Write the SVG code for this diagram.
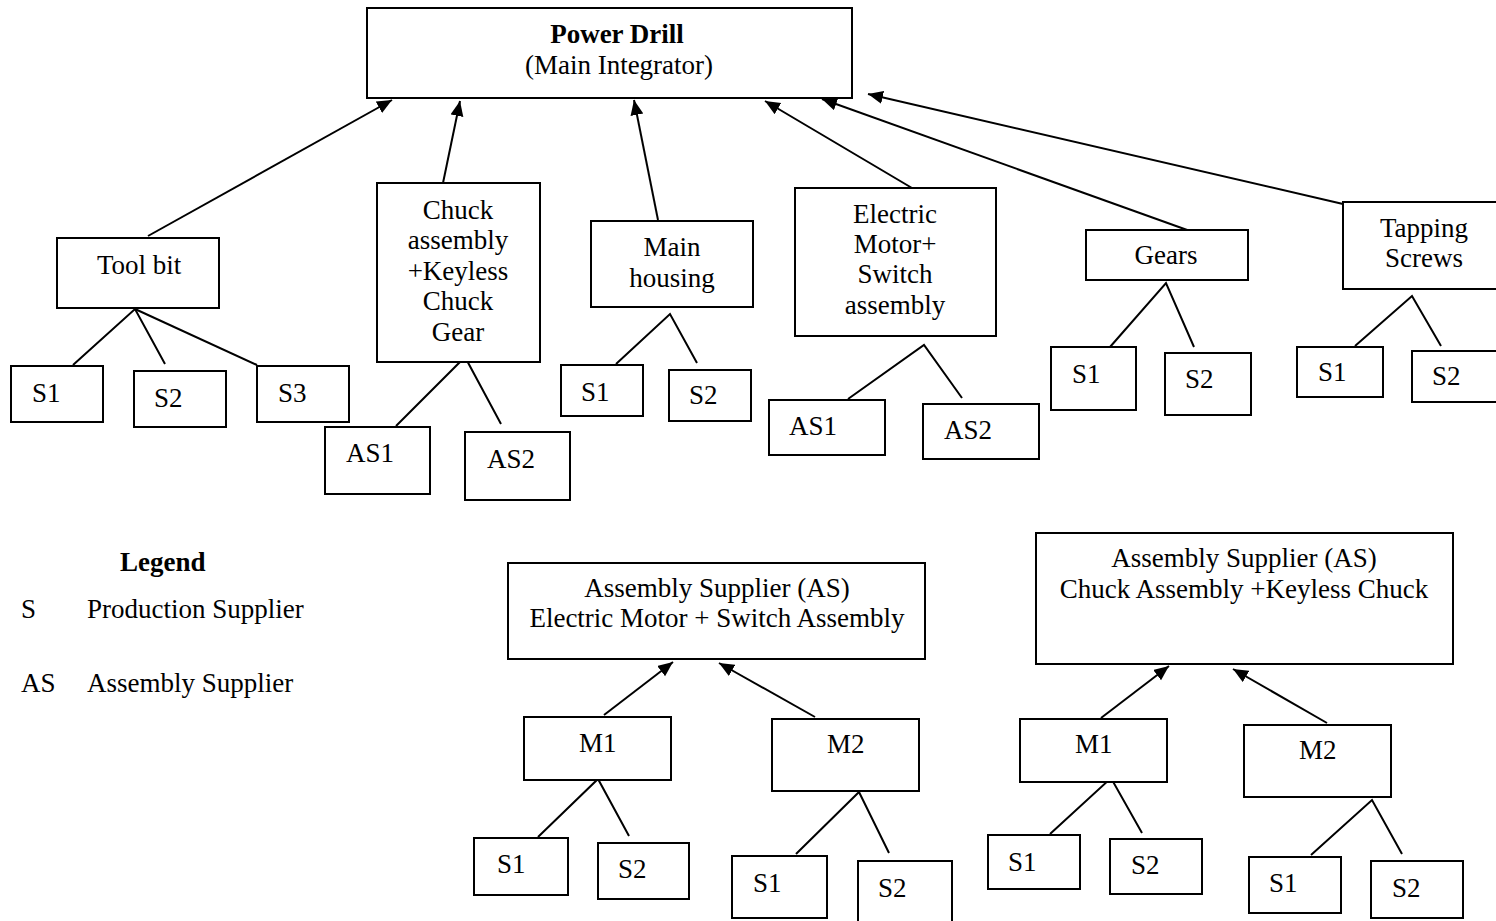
<svg xmlns="http://www.w3.org/2000/svg" width="1496" height="921" viewBox="0 0 1496 921">
  <style>
    .box { fill: #ffffff; stroke: #000000; stroke-width: 2; }
    .t { font-family: "Liberation Serif", "Times New Roman", serif; font-size: 27px; fill: #000000; }
    .c { text-anchor: middle; }
    .b { font-weight: bold; }
    .ln { fill: none; stroke: #000000; stroke-width: 2; }
    .arr { fill: none; stroke: #000000; stroke-width: 2; marker-end: url(#head); }
  </style>
  <defs>
    <marker id="head" markerUnits="userSpaceOnUse" markerWidth="16" markerHeight="14" refX="15" refY="6.5" orient="auto">
      <path d="M0,0 L15,6.5 L0,13 z" fill="#000000"/>
    </marker>
  </defs>
  <rect width="1496" height="921" fill="#ffffff"/>

  <!-- connectors -->
  <g id="connectors">
    <!-- components up to the main integrator -->
    <line class="arr" x1="148" y1="236" x2="392" y2="100"/>
    <line class="arr" x1="443" y1="183" x2="460" y2="101"/>
    <line class="arr" x1="658" y1="220" x2="634" y2="100"/>
    <line class="arr" x1="912" y1="188" x2="765" y2="101"/>
    <line class="arr" x1="1190" y1="231" x2="822" y2="99"/>
    <line class="arr" x1="1343" y1="204" x2="868" y2="94"/>
    <!-- supplier branches -->
    <polyline class="ln" points="73,365 135,309 165,364"/>
    <line class="ln" x1="135" y1="309" x2="257" y2="365"/>
    <polyline class="ln" points="396,426 465,357 501,424"/>
    <polyline class="ln" points="616,364 670,314 697,363"/>
    <polyline class="ln" points="848,399 924,345 962,398"/>
    <polyline class="ln" points="1110,347 1166,283 1194,347"/>
    <polyline class="ln" points="1355,346 1412,296 1441,346"/>
    <!-- assembly supplier trees -->
    <line class="arr" x1="604" y1="715" x2="673" y2="662"/>
    <line class="arr" x1="815" y1="717" x2="719" y2="663"/>
    <polyline class="ln" points="538,837 598,779 629,836"/>
    <polyline class="ln" points="796,854 859,792 889,853"/>
    <line class="arr" x1="1101" y1="718" x2="1169" y2="666"/>
    <line class="arr" x1="1327" y1="723" x2="1233" y2="669"/>
    <polyline class="ln" points="1050,834 1111,778 1142,833"/>
    <polyline class="ln" points="1311,855 1372,800 1402,854"/>
  </g>

  <!-- main integrator -->
  <g id="power-drill">
    <rect class="box" x="367" y="8" width="485" height="90"/>
    <text class="t c b" x="617" y="43">Power Drill</text>
    <text class="t c" x="619" y="74">(Main Integrator)</text>
  </g>

  <!-- tool bit -->
  <g id="tool-bit">
    <rect class="box" x="57" y="238" width="162" height="70"/>
    <text class="t" x="97" y="274">Tool bit</text>
  </g>
  <g id="tool-bit-s1"><rect class="box" x="11" y="366" width="92" height="56"/><text class="t" x="32" y="402">S1</text></g>
  <g id="tool-bit-s2"><rect class="box" x="134" y="371" width="92" height="56"/><text class="t" x="154" y="407">S2</text></g>
  <g id="tool-bit-s3"><rect class="box" x="257" y="366" width="92" height="56"/><text class="t" x="278" y="402">S3</text></g>

  <!-- chuck assembly -->
  <g id="chuck">
    <rect class="box" x="377" y="183" width="163" height="179"/>
    <text class="t c" x="458" y="219">Chuck</text>
    <text class="t c" x="458" y="249">assembly</text>
    <text class="t c" x="458" y="280">+Keyless</text>
    <text class="t c" x="458" y="310">Chuck</text>
    <text class="t c" x="458" y="341">Gear</text>
  </g>
  <g id="chuck-as1"><rect class="box" x="325" y="427" width="105" height="67"/><text class="t" x="346" y="462">AS1</text></g>
  <g id="chuck-as2"><rect class="box" x="465" y="432" width="105" height="68"/><text class="t" x="487" y="468">AS2</text></g>

  <!-- main housing -->
  <g id="main-housing">
    <rect class="box" x="591" y="221" width="162" height="86"/>
    <text class="t c" x="672" y="256">Main</text>
    <text class="t c" x="672" y="287">housing</text>
  </g>
  <g id="housing-s1"><rect class="box" x="561" y="365" width="82" height="51"/><text class="t" x="581" y="401">S1</text></g>
  <g id="housing-s2"><rect class="box" x="669" y="370" width="82" height="51"/><text class="t" x="689" y="404">S2</text></g>

  <!-- electric motor + switch -->
  <g id="motor">
    <rect class="box" x="795" y="188" width="201" height="148"/>
    <text class="t c" x="895" y="223">Electric</text>
    <text class="t c" x="895" y="253">Motor+</text>
    <text class="t c" x="895" y="283">Switch</text>
    <text class="t c" x="895" y="314">assembly</text>
  </g>
  <g id="motor-as1"><rect class="box" x="769" y="400" width="116" height="55"/><text class="t" x="789" y="435">AS1</text></g>
  <g id="motor-as2"><rect class="box" x="923" y="404" width="116" height="55"/><text class="t" x="944" y="439">AS2</text></g>

  <!-- gears -->
  <g id="gears">
    <rect class="box" x="1086" y="230" width="162" height="50"/>
    <text class="t c" x="1166" y="264">Gears</text>
  </g>
  <g id="gears-s1"><rect class="box" x="1051" y="347" width="85" height="63"/><text class="t" x="1072" y="383">S1</text></g>
  <g id="gears-s2"><rect class="box" x="1165" y="353" width="86" height="62"/><text class="t" x="1185" y="388">S2</text></g>

  <!-- tapping screws -->
  <g id="screws">
    <rect class="box" x="1343" y="202" width="160" height="87"/>
    <text class="t c" x="1424" y="237">Tapping</text>
    <text class="t c" x="1424" y="267">Screws</text>
  </g>
  <g id="screws-s1"><rect class="box" x="1297" y="347" width="86" height="50"/><text class="t" x="1318" y="381">S1</text></g>
  <g id="screws-s2"><rect class="box" x="1412" y="351" width="90" height="51"/><text class="t" x="1432" y="385">S2</text></g>

  <!-- legend -->
  <g id="legend">
    <text class="t b" x="120" y="571">Legend</text>
    <text class="t" x="21" y="618">S</text>
    <text class="t" x="87" y="618">Production Supplier</text>
    <text class="t" x="21" y="692">AS</text>
    <text class="t" x="87" y="692">Assembly Supplier</text>
  </g>

  <!-- assembly supplier: electric motor + switch -->
  <g id="as-motor">
    <rect class="box" x="508" y="563" width="417" height="96"/>
    <text class="t c" x="717" y="597">Assembly Supplier (AS)</text>
    <text class="t c" x="717" y="627">Electric Motor + Switch Assembly</text>
  </g>
  <g id="as-motor-m1"><rect class="box" x="524" y="717" width="147" height="63"/><text class="t" x="579" y="752">M1</text></g>
  <g id="as-motor-m2"><rect class="box" x="772" y="719" width="147" height="72"/><text class="t" x="827" y="753">M2</text></g>
  <g id="as-motor-m1-s1"><rect class="box" x="474" y="838" width="94" height="57"/><text class="t" x="497" y="873">S1</text></g>
  <g id="as-motor-m1-s2"><rect class="box" x="598" y="843" width="91" height="56"/><text class="t" x="618" y="878">S2</text></g>
  <g id="as-motor-m2-s1"><rect class="box" x="732" y="856" width="95" height="62"/><text class="t" x="753" y="892">S1</text></g>
  <g id="as-motor-m2-s2"><rect class="box" x="858" y="861" width="94" height="64"/><text class="t" x="878" y="897">S2</text></g>

  <!-- assembly supplier: chuck assembly + keyless chuck -->
  <g id="as-chuck">
    <rect class="box" x="1036" y="533" width="417" height="131"/>
    <text class="t c" x="1244" y="567">Assembly Supplier (AS)</text>
    <text class="t c" x="1244" y="598">Chuck Assembly +Keyless Chuck</text>
  </g>
  <g id="as-chuck-m1"><rect class="box" x="1020" y="719" width="147" height="63"/><text class="t" x="1075" y="753">M1</text></g>
  <g id="as-chuck-m2"><rect class="box" x="1244" y="725" width="147" height="72"/><text class="t" x="1299" y="759">M2</text></g>
  <g id="as-chuck-m1-s1"><rect class="box" x="988" y="835" width="92" height="54"/><text class="t" x="1008" y="871">S1</text></g>
  <g id="as-chuck-m1-s2"><rect class="box" x="1110" y="839" width="92" height="55"/><text class="t" x="1131" y="874">S2</text></g>
  <g id="as-chuck-m2-s1"><rect class="box" x="1249" y="857" width="92" height="56"/><text class="t" x="1269" y="892">S1</text></g>
  <g id="as-chuck-m2-s2"><rect class="box" x="1371" y="861" width="92" height="57"/><text class="t" x="1392" y="897">S2</text></g>
</svg>
